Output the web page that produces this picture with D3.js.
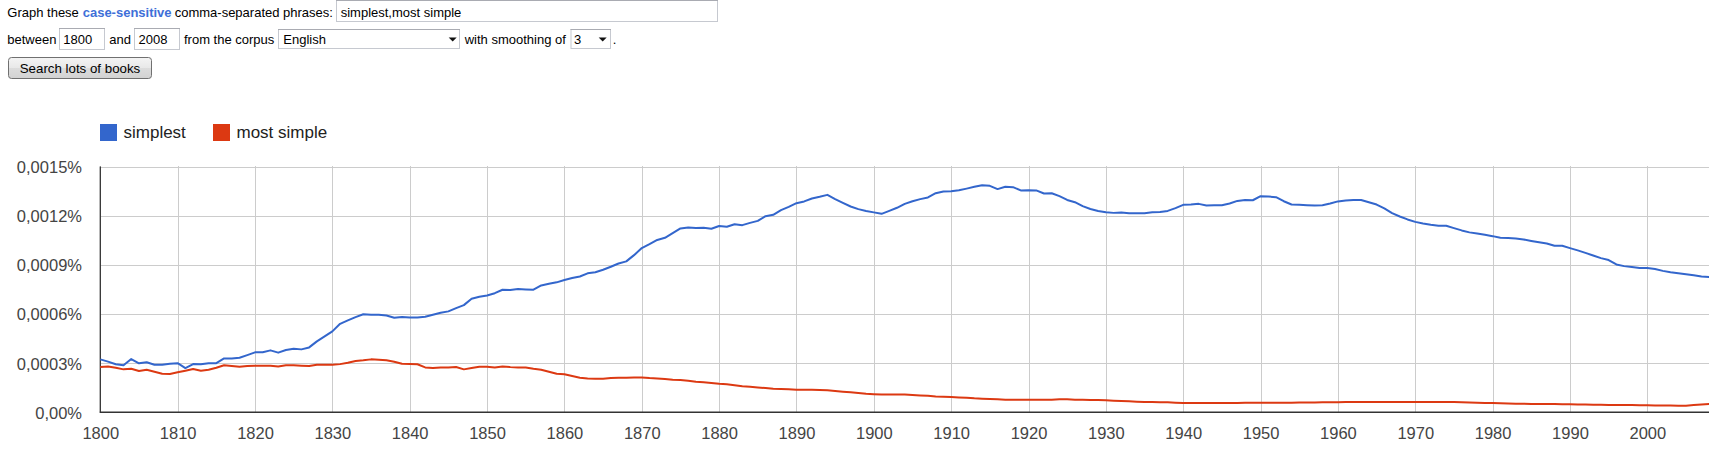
<!DOCTYPE html>
<html>
<head>
<meta charset="utf-8">
<script src="https://cdn.jsdelivr.net/npm/d3@7"></script>
<style>
  html, body { margin: 0; padding: 0; background: #fff; }
  svg { display: block; font-family: Arial, "Liberation Sans", sans-serif; }
</style>
</head>
<body>
<svg id="chart" width="1709" height="457"></svg>
<script>
// ---------------- DATA (values in units of 0.0001 %) ----------------
const firstYear = 1800;
const lastYear = 2008;
const seriesNames = ["simplest", "most simple"];

const simplest = [
  3.23, 3.09, 2.93, 2.87, 3.25, 2.99, 3.05, 2.90, 2.90, 2.96,
  3.00, 2.70, 2.94, 2.93, 3.00, 3.00, 3.29, 3.29, 3.33, 3.49,
  3.66, 3.66, 3.78, 3.64, 3.80, 3.88, 3.84, 3.96, 4.33, 4.63,
  4.94, 5.40, 5.61, 5.81, 5.98, 5.96, 5.96, 5.91, 5.77, 5.81,
  5.79, 5.79, 5.83, 5.95, 6.07, 6.16, 6.36, 6.54, 6.93, 7.05,
  7.13, 7.27, 7.48, 7.46, 7.52, 7.50, 7.48, 7.74, 7.84, 7.93,
  8.07, 8.19, 8.29, 8.48, 8.55, 8.70, 8.88, 9.08, 9.21, 9.59,
  10.02, 10.26, 10.52, 10.65, 10.93, 11.22, 11.28, 11.24, 11.26, 11.20,
  11.37, 11.32, 11.48, 11.42, 11.56, 11.68, 11.97, 12.05, 12.34, 12.54,
  12.76, 12.87, 13.05, 13.15, 13.27, 13.01, 12.78, 12.56, 12.40, 12.29,
  12.20, 12.11, 12.29, 12.48, 12.72, 12.88, 13.01, 13.11, 13.37, 13.48,
  13.49, 13.55, 13.65, 13.76, 13.86, 13.82, 13.62, 13.76, 13.74, 13.54,
  13.55, 13.54, 13.35, 13.37, 13.19, 12.96, 12.82, 12.58, 12.41, 12.29,
  12.21, 12.17, 12.20, 12.15, 12.15, 12.15, 12.21, 12.23, 12.29, 12.46,
  12.66, 12.68, 12.72, 12.62, 12.64, 12.64, 12.74, 12.90, 12.96, 12.94,
  13.19, 13.17, 13.13, 12.88, 12.68, 12.66, 12.64, 12.62, 12.64, 12.74,
  12.87, 12.93, 12.96, 12.96, 12.82, 12.68, 12.44, 12.15, 11.95, 11.77,
  11.62, 11.52, 11.44, 11.38, 11.38, 11.24, 11.10, 10.98, 10.91, 10.83,
  10.75, 10.65, 10.63, 10.61, 10.55, 10.46, 10.38, 10.30, 10.16, 10.16,
  10.02, 9.88, 9.73, 9.57, 9.41, 9.29, 9.02, 8.92, 8.86, 8.80,
  8.80, 8.74, 8.63, 8.55, 8.49, 8.43, 8.37, 8.29, 8.25
];

const mostSimple = [
  2.76, 2.80, 2.72, 2.62, 2.66, 2.52, 2.60, 2.48, 2.35, 2.34,
  2.44, 2.54, 2.64, 2.54, 2.60, 2.72, 2.87, 2.82, 2.78, 2.82,
  2.84, 2.84, 2.84, 2.80, 2.87, 2.87, 2.84, 2.82, 2.90, 2.90,
  2.90, 2.94, 3.02, 3.13, 3.17, 3.23, 3.21, 3.17, 3.09, 2.96,
  2.95, 2.93, 2.74, 2.70, 2.74, 2.74, 2.76, 2.62, 2.70, 2.78,
  2.78, 2.74, 2.80, 2.76, 2.74, 2.74, 2.66, 2.60, 2.48, 2.35,
  2.32, 2.21, 2.11, 2.07, 2.05, 2.05, 2.09, 2.11, 2.11, 2.13,
  2.13, 2.09, 2.07, 2.03, 1.99, 1.97, 1.93, 1.87, 1.83, 1.79,
  1.74, 1.71, 1.65, 1.59, 1.56, 1.52, 1.48, 1.44, 1.42, 1.40,
  1.38, 1.38, 1.38, 1.36, 1.34, 1.30, 1.26, 1.22, 1.18, 1.13,
  1.10, 1.08, 1.08, 1.08, 1.08, 1.05, 1.03, 1.01, 0.97, 0.95,
  0.93, 0.91, 0.89, 0.85, 0.83, 0.81, 0.79, 0.77, 0.77, 0.77,
  0.76, 0.77, 0.77, 0.77, 0.79, 0.79, 0.77, 0.77, 0.75, 0.75,
  0.73, 0.71, 0.69, 0.67, 0.65, 0.63, 0.63, 0.61, 0.61, 0.59,
  0.57, 0.57, 0.57, 0.57, 0.57, 0.57, 0.57, 0.57, 0.59, 0.59,
  0.59, 0.59, 0.59, 0.59, 0.59, 0.60, 0.60, 0.60, 0.61, 0.61,
  0.61, 0.63, 0.63, 0.63, 0.63, 0.63, 0.63, 0.63, 0.63, 0.63,
  0.63, 0.63, 0.63, 0.63, 0.63, 0.63, 0.62, 0.60, 0.58, 0.57,
  0.57, 0.55, 0.53, 0.52, 0.52, 0.51, 0.51, 0.50, 0.50, 0.49,
  0.49, 0.48, 0.47, 0.46, 0.46, 0.45, 0.45, 0.44, 0.44, 0.43,
  0.43, 0.42, 0.41, 0.41, 0.40, 0.40, 0.44, 0.48, 0.51
];

const xTickValues = [1800, 1810, 1820, 1830, 1840, 1850, 1860, 1870, 1880, 1890,
                     1900, 1910, 1920, 1930, 1940, 1950, 1960, 1970, 1980, 1990, 2000];
const yTickValues = [0, 3, 6, 9, 12, 15];
const yTickLabels = ["0,00%", "0,0003%", "0,0006%", "0,0009%", "0,0012%", "0,0015%"];
const colors = ["#3366cc", "#dc3912"];

// ---------------- LAYOUT ----------------
const svg = d3.select("#chart");
const plot = { left: 100.3, right: 1709.2, top: 166.5, bottom: 412.3 };

const x = d3.scaleLinear().domain([firstYear, lastYear]).range([plot.left, plot.right]);
const y = d3.scaleLinear().domain([0, 15]).range([plot.bottom, plot.top]);

// ---------------- HEADER FORM ----------------
const hdr = svg.append("g").attr("font-size", "13px").attr("fill", "#000");

function box(x0, y0, w, h) {
  hdr.append("rect").attr("x", x0 + 0.5).attr("y", y0 + 0.5).attr("width", w - 1).attr("height", h - 1)
    .attr("fill", "#fff").attr("stroke", "#c6c9d0");
  hdr.append("line").attr("x1", x0).attr("x2", x0 + w).attr("y1", y0 + 0.5).attr("y2", y0 + 0.5)
    .attr("stroke", "#a9abb2");
}
function arrow(cx, cy) {
  hdr.append("path").attr("d", `M${cx - 4},${cy - 2}L${cx + 4},${cy - 2}L${cx},${cy + 2}Z`).attr("fill", "#111");
}
function txt(str, x0, yb, opts = {}) {
  const t = hdr.append("text").attr("x", x0).attr("y", yb).text(str);
  if (opts.fill) t.attr("fill", opts.fill);
  if (opts.bold) t.attr("font-weight", "bold");
  if (opts.size) t.attr("font-size", opts.size);
  if (opts.anchor) t.attr("text-anchor", opts.anchor);
  return t;
}

// line 1
txt("Graph these", 7.3, 16.5);
txt("case-sensitive", 82.7, 16.5, { fill: "#3e6fd8", bold: true });
txt("comma-separated phrases:", 174.7, 16.5);
box(336, 0, 382, 22);
txt("simplest,most simple", 340.7, 16.5);

// line 2
txt("between", 7.3, 44);
box(59, 28, 46, 22);
txt("1800", 63.3, 44);
txt("and", 109.3, 44);
box(134, 28, 46, 22);
txt("2008", 138.5, 44);
txt("from the corpus", 184, 44);
box(278, 29, 182, 20);
txt("English", 283.3, 44);
arrow(452.7, 39.5);
txt("with smoothing of", 464.7, 44);
box(570.5, 29, 40.5, 20);
txt("3", 574, 44);
arrow(602.7, 39.5);
txt(".", 612.7, 44);

// button
const defs = svg.append("defs");
const grad = defs.append("linearGradient").attr("id", "btnGrad").attr("x1", 0).attr("x2", 0).attr("y1", 0).attr("y2", 1);
grad.append("stop").attr("offset", "0%").attr("stop-color", "#f4f4f4");
grad.append("stop").attr("offset", "50%").attr("stop-color", "#e8e8e8");
grad.append("stop").attr("offset", "51%").attr("stop-color", "#dcdcdc");
grad.append("stop").attr("offset", "100%").attr("stop-color", "#d2d2d2");
hdr.append("rect").attr("x", 8.5).attr("y", 57.5).attr("width", 143).attr("height", 21).attr("rx", 3)
  .attr("fill", "url(#btnGrad)").attr("stroke", "#707070");
txt("Search lots of books", 80, 72.7, { anchor: "middle", size: "13.3px" });

// ---------------- LEGEND ----------------
const legendX = [100, 213];
const legend = svg.append("g");
legend.selectAll("rect").data(seriesNames).join("rect")
  .attr("x", (d, i) => legendX[i]).attr("y", 124).attr("width", 17).attr("height", 17)
  .attr("fill", (d, i) => colors[i]);
legend.selectAll("text").data(seriesNames).join("text")
  .attr("x", (d, i) => legendX[i] + 23.5).attr("y", 138)
  .attr("font-size", "17px").attr("fill", "#222").text(d => d);

// ---------------- AXES / GRID ----------------
const gx = svg.append("g").attr("transform", `translate(0,${plot.bottom})`)
  .call(d3.axisBottom(x).tickValues(xTickValues).tickFormat(d3.format("d"))
        .tickSize(-(plot.bottom - plot.top)).tickPadding(0));
gx.select(".domain").remove();
gx.selectAll(".tick line").attr("stroke", "#cccccc").attr("shape-rendering", "crispEdges");
gx.selectAll(".tick text").attr("y", 26.3).attr("dy", 0)
  .attr("font-size", "16.5px").attr("fill", "#444").attr("font-family", "Arial, 'Liberation Sans', sans-serif");

const gy = svg.append("g").attr("transform", `translate(${plot.left},0)`)
  .call(d3.axisLeft(y).tickValues(yTickValues).tickFormat((d, i) => yTickLabels[i])
        .tickSize(-(plot.right - plot.left)).tickPadding(0));
gy.select(".domain").remove();
gy.selectAll(".tick line").attr("stroke", "#cccccc").attr("shape-rendering", "crispEdges");
gy.selectAll(".tick text").attr("x", -18.3).attr("dy", "0.36em")
  .attr("font-size", "16.5px").attr("fill", "#444").attr("font-family", "Arial, 'Liberation Sans', sans-serif");

// axis lines
svg.append("line").attr("x1", plot.left).attr("x2", plot.left).attr("y1", plot.top).attr("y2", plot.bottom + 0.5)
  .attr("stroke", "#333").attr("stroke-width", 1.3);
svg.append("line").attr("x1", plot.left - 0.5).attr("x2", plot.right).attr("y1", plot.bottom).attr("y2", plot.bottom)
  .attr("stroke", "#333").attr("stroke-width", 1.5);

// ---------------- SERIES ----------------
const years = d3.range(firstYear, lastYear + 1);
const seriesData = [simplest, mostSimple];
const line = d3.line().x((d, i) => x(years[i])).y(d => y(d));

svg.append("g").selectAll("path").data(seriesData).join("path")
  .attr("d", d => line(d))
  .attr("fill", "none")
  .attr("stroke", (d, i) => colors[i])
  .attr("stroke-width", 2)
  .attr("stroke-linejoin", "round");
</script>
</body>
</html>
